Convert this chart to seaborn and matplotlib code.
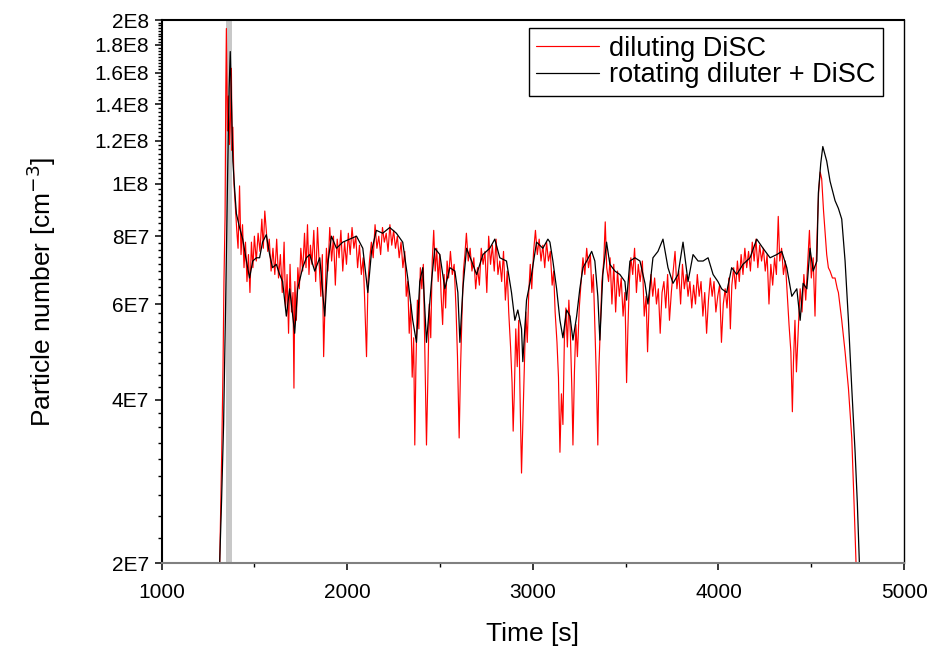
import numpy as np
import matplotlib
matplotlib.use("Agg")
import matplotlib.pyplot as plt
import matplotlib.ticker as mticker
import seaborn as sns

# values, particle number in units of 1E7 cm^-3
t_rot = [1313, 1323, 1334, 1345, 1356, 1364, 1370, 1377, 1384, 1395, 1403, 1420,
         1437, 1457, 1474, 1491, 1511, 1528, 1544, 1564, 1582, 1598, 1618, 1636,
         1652, 1672, 1690, 1717, 1733, 1760, 1780, 1798, 1825, 1852, 1879, 1895,
         1915, 1942, 1976, 2014, 2050, 2084, 2111, 2131, 2157, 2191, 2229, 2265,
         2299, 2326, 2353, 2373, 2391, 2407, 2427, 2454, 2472, 2499, 2526, 2553,
         2580, 2596, 2607, 2623, 2643, 2670, 2697, 2731, 2768, 2795, 2822, 2858,
         2885, 2903, 2919, 2939, 2946, 2966, 2993, 3020, 3054, 3081, 3092, 3108,
         3128, 3146, 3162, 3182, 3200, 3216, 3236, 3253, 3270, 3290, 3317, 3334,
         3350, 3361, 3377, 3397, 3415, 3442, 3469, 3496, 3505, 3523, 3550, 3577,
         3604, 3620, 3647, 3674, 3701, 3728, 3755, 3782, 3809, 3836, 3863, 3890,
         3917, 3944, 3971, 3997, 4017, 4044, 4071, 4098, 4132, 4170, 4206, 4240,
         4278, 4314, 4341, 4368, 4395, 4422, 4440, 4456, 4476, 4493, 4510, 4530,
         4538, 4551, 4562, 4583, 4601, 4628, 4646, 4664, 4682, 4700, 4718, 4736,
         4748, 4759]
n_rot = [2.0, 2.6, 3.6, 6.0, 10.5, 15.0, 17.5, 14.0, 11.0, 9.6, 8.8, 8.3,
         7.9, 7.2, 6.7, 7.2, 7.3, 7.3, 7.8, 8.05, 7.4, 7.0, 7.1, 6.8,
         6.6, 5.7, 6.4, 5.3, 6.4, 7.0, 7.3, 7.4, 6.9, 7.3, 5.7, 7.1,
         8.0, 7.6, 7.8, 7.9, 8.0, 7.6, 6.3, 7.5, 8.2, 8.1, 8.3, 8.1,
         7.8, 6.7, 5.6, 5.1, 6.6, 7.0, 5.1, 6.6, 7.6, 7.4, 6.4, 7.0,
         6.9, 6.3, 5.1, 6.4, 7.6, 7.2, 6.8, 7.4, 7.6, 7.9, 7.3, 7.2,
         6.3, 5.6, 5.85, 5.4, 4.7, 6.1, 6.8, 7.8, 7.6, 7.9, 7.8, 7.2,
         6.4, 5.6, 5.2, 5.85, 5.7, 5.15, 5.7, 6.4, 7.0, 7.2, 7.5, 7.2,
         6.2, 5.15, 6.8, 7.8, 7.1, 6.9, 6.8, 6.6, 6.1, 7.2, 7.3, 7.2,
         6.55, 6.0, 7.3, 7.5, 7.9, 7.0, 6.55, 6.8, 7.8, 6.6, 7.4, 7.2,
         7.2, 7.3, 6.8, 6.6, 6.4, 6.3, 7.0, 6.8, 7.1, 7.3, 7.9, 7.6,
         7.3, 7.4, 7.5, 7.0, 6.2, 6.4, 5.6, 6.55, 6.4, 7.6, 6.9, 7.2,
         9.6, 10.9, 11.7, 11.0, 10.1, 9.3, 9.0, 8.6, 7.2, 5.6, 4.2, 3.2,
         2.58, 2.0]

t_dil = [1313, 1318, 1324, 1331, 1336, 1342, 1346, 1349, 1355, 1360, 1366, 1372,
         1376, 1380, 1384, 1390, 1398, 1405, 1412, 1420, 1428, 1436, 1444, 1452,
         1460, 1468, 1476, 1484, 1492, 1500, 1510, 1520, 1530, 1540, 1548, 1556,
         1564, 1572, 1580, 1590, 1600, 1610, 1620, 1630, 1640, 1650, 1660, 1668,
         1676, 1684, 1692, 1700, 1708, 1713, 1718, 1726, 1734, 1742, 1750, 1760,
         1770, 1778, 1786, 1794, 1802, 1810, 1820, 1830, 1840, 1850, 1858, 1866,
         1873, 1880, 1888, 1896, 1906, 1916, 1926, 1936, 1946, 1956, 1966, 1976,
         1986, 1996, 2006, 2016, 2026, 2036, 2046, 2056, 2066, 2076, 2086, 2094,
         2104, 2112, 2120, 2130, 2140, 2150, 2160, 2170, 2180, 2190, 2200, 2210,
         2220, 2230, 2240, 2250, 2260, 2270, 2280, 2290, 2300, 2310, 2318, 2326,
         2334, 2342, 2350, 2358, 2364, 2370, 2378, 2386, 2394, 2402, 2410, 2418,
         2427, 2434, 2442, 2450, 2458, 2466, 2474, 2482, 2490, 2498, 2506, 2514,
         2522, 2530, 2538, 2546, 2556, 2566, 2576, 2586, 2594, 2603, 2610, 2618,
         2626, 2634, 2642, 2652, 2662, 2672, 2682, 2692, 2702, 2712, 2722, 2732,
         2742, 2752, 2762, 2772, 2782, 2792, 2802, 2812, 2822, 2832, 2842, 2852,
         2862, 2870, 2880, 2888, 2894, 2900, 2908, 2916, 2924, 2932, 2939, 2946,
         2954, 2962, 2970, 2978, 2986, 2994, 3004, 3014, 3024, 3034, 3044, 3054,
         3064, 3074, 3084, 3094, 3104, 3112, 3120, 3130, 3138, 3146, 3154, 3162,
         3170, 3178, 3186, 3194, 3202, 3210, 3216, 3224, 3232, 3240, 3250, 3260,
         3270, 3280, 3290, 3300, 3310, 3318, 3326, 3334, 3342, 3350, 3356, 3364,
         3372, 3382, 3390, 3398, 3408, 3416, 3426, 3436, 3446, 3456, 3466, 3476,
         3486, 3496, 3505, 3512, 3520, 3528, 3538, 3548, 3558, 3568, 3578, 3590,
         3600, 3610, 3618, 3626, 3636, 3646, 3656, 3666, 3676, 3686, 3696, 3706,
         3716, 3726, 3736, 3746, 3756, 3766, 3776, 3786, 3796, 3806, 3816, 3826,
         3836, 3846, 3856, 3866, 3876, 3886, 3896, 3906, 3916, 3926, 3936, 3946,
         3956, 3966, 3976, 3986, 3996, 4006, 4016, 4026, 4036, 4046, 4056, 4064,
         4072, 4082, 4092, 4102, 4112, 4122, 4132, 4142, 4152, 4162, 4172, 4182,
         4192, 4202, 4212, 4222, 4232, 4242, 4252, 4262, 4272, 4282, 4292, 4302,
         4312, 4322, 4330, 4340, 4350, 4360, 4370, 4380, 4390, 4398, 4404, 4412,
         4420, 4430, 4440, 4450, 4460, 4470, 4480, 4490, 4500, 4510, 4520, 4528,
         4534, 4540, 4548, 4556, 4566, 4576, 4583, 4592, 4601, 4614, 4628, 4640,
         4646, 4664, 4682, 4700, 4718, 4730, 4741]
n_dil = [2.0, 2.5, 3.2, 4.6, 6.6, 8.7, 15.0, 19.3, 12.5, 14.5, 11.8, 13.5,
         16.3, 11.5, 12.7, 10.0, 9.0, 8.2, 7.6, 9.9, 7.4, 8.4, 7.0, 7.8,
         6.6, 7.4, 6.3, 7.8, 7.0, 8.0, 7.2, 8.1, 7.5, 8.6, 7.6, 8.9,
         8.2, 7.5, 7.9, 6.9, 7.6, 6.8, 7.9, 6.7, 7.4, 6.3, 7.8, 5.9,
         6.8, 5.3, 7.1, 5.8, 6.3, 4.2, 6.6, 5.6, 7.0, 6.4, 7.6, 6.9,
         8.1, 7.0, 8.4, 6.8, 7.7, 7.1, 8.2, 6.6, 8.3, 7.0, 6.2, 7.4,
         4.8, 6.0, 7.6, 6.9, 8.3, 7.2, 8.0, 6.5, 7.9, 7.3, 8.2, 6.9,
         7.8, 7.1, 8.1, 7.4, 8.3, 7.6, 8.0, 7.0, 7.7, 6.8, 7.3, 6.1,
         4.8, 6.6, 7.2, 7.8, 7.3, 8.4, 7.6, 8.0, 7.4, 8.3, 7.8, 8.1,
         7.5, 8.4, 7.7, 8.2, 7.6, 8.0, 7.3, 7.8, 7.0, 7.5, 6.2, 6.6,
         5.3, 6.0, 4.4, 5.2, 3.3, 4.6, 6.1, 5.4, 7.0, 6.4, 7.1, 4.9,
         3.3, 4.3, 6.0, 5.2, 7.2, 8.2, 6.9, 7.6, 6.6, 7.4, 6.2, 5.5,
         6.8, 5.9, 7.2, 6.7, 7.5, 6.8, 7.1, 5.9, 4.8, 3.4, 4.5, 5.7,
         6.9, 7.4, 8.1, 7.2, 7.6, 6.9, 7.3, 6.4, 7.0, 6.5, 7.6, 7.1,
         7.5, 6.3, 8.0, 7.1, 7.7, 6.9, 7.9, 6.8, 7.2, 6.6, 7.5, 6.1,
         6.9, 5.8, 5.0, 4.3, 3.5, 4.1, 5.4, 4.6, 5.6, 3.9, 2.93, 3.6,
         4.6, 5.8, 5.1, 6.3, 7.1, 6.4, 7.5, 8.2, 7.4, 7.9, 7.2, 7.7,
         7.0, 7.8, 7.2, 7.5, 6.5, 6.9, 5.8, 5.1, 4.4, 3.2, 4.1, 3.6,
         5.2, 5.9, 5.0, 6.1, 5.3, 4.2, 3.3, 4.5, 5.5, 4.8, 5.9, 6.6,
         7.3, 6.8, 7.6, 7.0, 7.4, 6.3, 6.8, 5.5, 4.4, 3.3, 4.6, 5.5,
         6.6, 7.2, 8.5, 7.0, 6.6, 7.3, 6.0, 7.1, 5.8, 6.9, 6.2, 6.7,
         5.7, 6.3, 4.3, 5.4, 6.6, 7.3, 6.8, 7.6, 6.3, 7.1, 6.6, 7.2,
         5.7, 6.2, 4.9, 6.0, 6.8, 6.2, 6.7, 6.0, 6.4, 5.3, 6.3, 6.6,
         5.9, 6.8, 5.6, 6.3, 6.9, 7.5, 6.4, 6.9, 6.0, 7.1, 6.4, 6.8,
         6.2, 6.6, 5.9, 6.5, 6.0, 6.8, 6.2, 6.6, 5.7, 6.3, 5.3, 6.1,
         6.7, 6.2, 6.6, 5.8, 6.2, 6.5, 5.1, 6.0, 6.4, 5.9, 6.7, 5.4,
         6.5, 7.0, 6.4, 7.2, 6.6, 7.4, 6.8, 7.6, 7.0, 7.5, 6.9, 7.8,
         7.2, 7.9, 7.0, 7.7, 7.2, 7.6, 6.9, 7.4, 6.0, 7.1, 6.5, 7.3,
         6.8, 8.7, 7.2, 7.6, 6.8, 7.2, 6.3, 5.5, 4.9, 3.8, 4.7, 5.6,
         4.5, 5.4, 6.4, 5.8, 6.8, 6.1, 7.1, 8.2, 6.7, 7.3, 5.7, 7.4,
         8.6, 9.7, 10.5, 10.2, 8.9, 8.0, 7.4, 7.0, 6.9, 6.7, 6.7, 6.4,
         6.3, 5.6, 4.9, 4.2, 3.4, 2.6, 2.0]

y_ticks = [2, 4, 6, 8, 10, 12, 14, 16, 18, 20]
y_labels = ["2E7", "4E7", "6E7", "8E7", "1E8", "1.2E8", "1.4E8", "1.6E8", "1.8E8", "2E8"]
x_ticks = [1000, 2000, 3000, 4000, 5000]

sns.set_style("ticks")
plt.rcParams["font.family"] = ["Liberation Sans", "DejaVu Sans"]

fig = plt.figure(figsize=(9.34, 6.48), dpi=100)
ax = fig.add_axes([0.173, 0.131, 0.795, 0.838])

# grey marker band near the first peak
ax.axvspan(1348, 1381, color="#c8c8c8", lw=0, zorder=0)

sns.lineplot(x=t_dil, y=n_dil, color="#ff0000", lw=0.85, ax=ax, label="diluting DiSC")
sns.lineplot(x=t_rot, y=n_rot, color="#000000", lw=0.9, ax=ax, label="rotating diluter + DiSC")

ax.set_yscale("log")
ax.set_xlim(1000, 5000)
ax.set_ylim(2, 20)

ax.yaxis.set_major_locator(mticker.FixedLocator(y_ticks))
ax.yaxis.set_major_formatter(mticker.FixedFormatter(y_labels))
ax.yaxis.set_minor_locator(mticker.MultipleLocator(2 / 9))
ax.yaxis.set_minor_formatter(mticker.NullFormatter())
ax.xaxis.set_major_locator(mticker.FixedLocator(x_ticks))
ax.xaxis.set_minor_locator(mticker.MultipleLocator(500))

ax.tick_params(which="major", direction="out", length=5, width=1.1, colors="black")
ax.tick_params(which="minor", direction="out", length=3, width=1.0, colors="black")
ax.tick_params(axis="y", which="major", labelsize=15, pad=4)
ax.tick_params(axis="x", which="major", labelsize=15, pad=9)

for side in ["top", "left", "right"]:
    ax.spines[side].set_color("black")
ax.spines["top"].set_linewidth(1.5)
ax.spines["left"].set_linewidth(1.5)
ax.spines["right"].set_linewidth(1.0)
ax.spines["bottom"].set_color("#808080")
ax.spines["bottom"].set_linewidth(1.5)

ax.set_xlabel("Time [s]", fontsize=19, labelpad=15, color="black")
ax.set_ylabel("Particle number [cm$^{-3}$]", fontsize=19, labelpad=26, color="black")

leg = ax.legend(loc="upper right", bbox_to_anchor=(0.972, 0.985), borderaxespad=0,
                fontsize=19.5, handlelength=2.3, frameon=True, fancybox=False,
                borderpad=0.28, labelspacing=0.02, handletextpad=0.4)
leg.get_frame().set_edgecolor("black")
leg.get_frame().set_linewidth(1.0)
leg.get_frame().set_alpha(1)
for txt in leg.get_texts():
    txt.set_color("black")

plt.savefig("out.png", dpi=100)
